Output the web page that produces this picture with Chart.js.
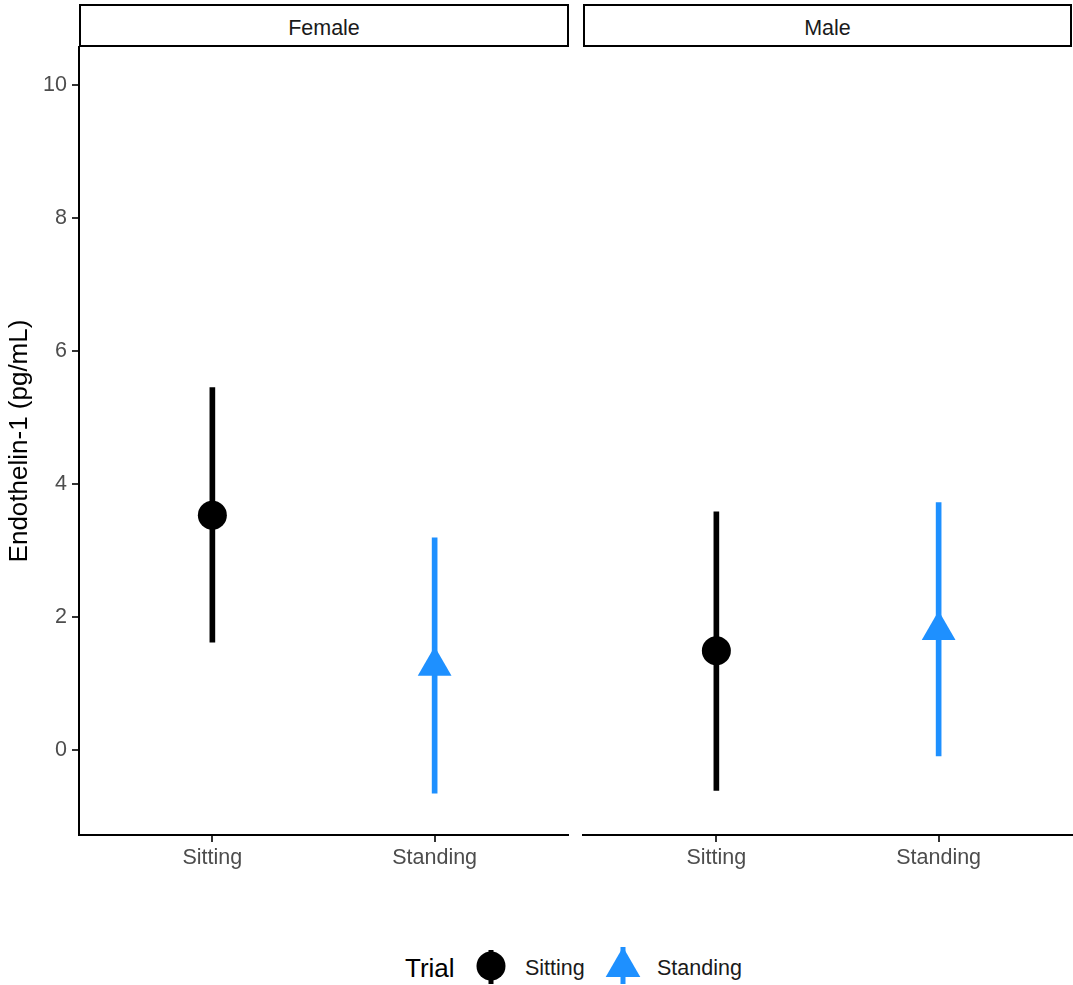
<!DOCTYPE html>
<html>
<head>
<meta charset="utf-8">
<script src="https://cdn.jsdelivr.net/npm/chart.js@4/dist/chart.umd.min.js"></script>
<style>
  html, body { margin:0; padding:0; background:#fff; }
  body { width:1073px; height:985px; position:relative; overflow:hidden; font-family:"Liberation Sans", Arial, sans-serif; }
  canvas { position:absolute; top:0; }
  .strip { position:absolute; top:4px; height:43px; box-sizing:border-box; border:2px solid #000; background:#fff;
           font-size:21.5px; color:#1A1A1A; text-align:center; line-height:44px; }
  .leg { position:absolute; font-family:"Liberation Sans", Arial, sans-serif; white-space:nowrap; }
</style>
</head>
<body>
<canvas id="c1" width="570" height="900" style="left:0px;width:570px;height:900px"></canvas>
<canvas id="c2" width="503" height="900" style="left:570px;width:503px;height:900px"></canvas>
<div class="strip" style="left:79px;width:490px;">Female</div>
<div class="strip" style="left:583px;width:489px;">Male</div>

<div class="leg" style="left:405px;top:952px;font-size:26px;color:#000;line-height:32px;">Trial</div>
<svg class="leg" style="left:470px;top:940px;" width="50" height="50" viewBox="470 940 50 50">
  <line x1="491" y1="950" x2="491" y2="984" stroke="#000" stroke-width="5"/>
  <circle cx="491" cy="966" r="14.5" fill="#000"/>
</svg>
<div class="leg" style="left:525px;top:954px;font-size:21.5px;color:#1A1A1A;line-height:28px;">Sitting</div>
<svg class="leg" style="left:600px;top:940px;" width="50" height="50" viewBox="600 940 50 50">
  <line x1="623" y1="947" x2="623" y2="984" stroke="#1E90FF" stroke-width="5"/>
  <polygon points="623,947 640.3,977 605.7,977" fill="#1E90FF"/>
</svg>
<div class="leg" style="left:657px;top:954px;font-size:21.5px;color:#1A1A1A;line-height:28px;">Standing</div>

<script>
// ---- data ----
const facets = ['Female', 'Male'];
const categories = ['Sitting', 'Standing'];
const femaleMean = [3.53, 1.26];
const femaleLow  = [1.62, -0.65];
const femaleHigh = [5.45, 3.19];
const maleMean   = [1.49, 1.80];
const maleLow    = [-0.61, -0.09];
const maleHigh   = [3.58, 3.72];
const yTicks = [0, 2, 4, 6, 8, 10];
const yMin = -1.28, yMax = 10.57;
const seriesColors = ['#000000', '#1E90FF'];
const seriesShapes = ['circle', 'triangle'];

const FONT = '"Liberation Sans", Arial, sans-serif';

function makeChart(id, mean, low, high, showY, padding) {
  const bars = categories.map((c, i) => ({ x: i, y: [low[i], high[i]] }));
  const pts = categories.map((c, i) => ({ x: i, y: mean[i] }));
  return new Chart(document.getElementById(id), {
    type: 'bar',
    data: {
      datasets: [
        {
          type: 'scatter',
          data: pts,
          order: 0,
          pointStyle: seriesShapes,
          pointRadius: [14.5, 19.5],
          backgroundColor: seriesColors,
          borderColor: seriesColors,
          borderWidth: 0,
          showLine: false
        },
        {
          type: 'bar',
          data: bars,
          order: 1,
          barThickness: 5,
          backgroundColor: seriesColors,
          borderWidth: 0
        }
      ]
    },
    options: {
      responsive: false,
      animation: false,
      layout: { padding: padding, autoPadding: false },
      plugins: { legend: { display: false }, tooltip: { enabled: false } },
      scales: {
        x: {
          type: 'linear',
          offset: false,
          min: -0.6, max: 1.6,
          afterBuildTicks: s => { s.ticks = categories.map((c, i) => ({ value: i })); },
          afterFit: s => { s.height = 65; s.paddingLeft = 0; s.paddingRight = 0; },
          ticks: {
            callback: v => categories[v],
            font: { family: FONT, size: 21.5 },
            color: '#4D4D4D',
            padding: 3,
            autoSkip: false, maxRotation: 0
          },
          grid: { offset: false, drawOnChartArea: false, drawTicks: true, tickLength: 7, color: '#333333', lineWidth: 2 },
          border: { display: true, color: '#000000', width: 2 }
        },
        y: {
          display: showY,
          min: yMin, max: yMax,
          afterBuildTicks: s => { s.ticks = yTicks.map(v => ({ value: v })); },
          afterFit: s => { if (showY) s.width = 79; s.paddingTop = 0; s.paddingBottom = 0; },
          ticks: {
            font: { family: FONT, size: 21.5 },
            color: '#4D4D4D',
            padding: 5
          },
          grid: { drawOnChartArea: false, drawTicks: true, tickLength: 7, color: '#333333', lineWidth: 2 },
          border: { display: true, color: '#000000', width: 2 },
          title: {
            display: showY,
            text: 'Endothelin-1 (pg/mL)',
            font: { family: FONT, size: 26 },
            color: '#000000'
          }
        }
      }
    }
  });
}

makeChart('c1', femaleMean, femaleLow, femaleHigh, true, { top: 47, right: 2, left: 0, bottom: 0 });
makeChart('c2', maleMean, maleLow, maleHigh, false, { top: 47, right: 1, left: 13, bottom: 0 });
</script>
</body>
</html>
